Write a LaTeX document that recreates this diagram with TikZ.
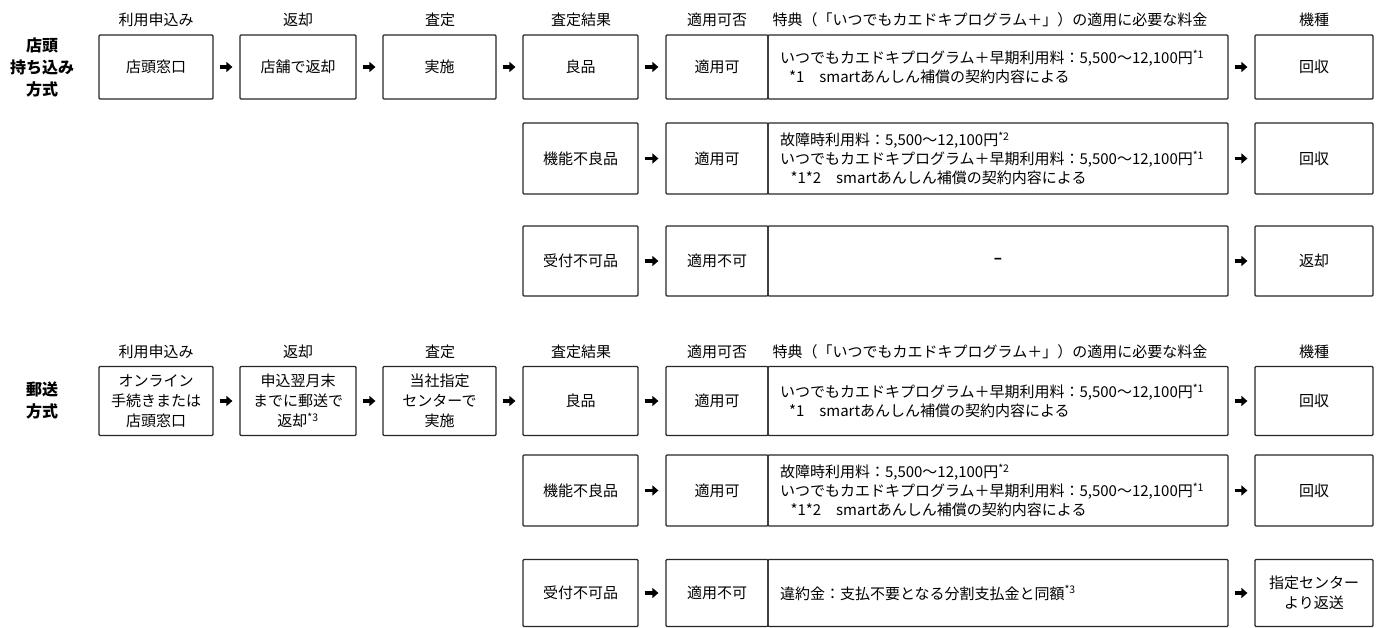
\documentclass[tikz,border=0pt]{standalone}
\usepackage{fontspec}
\setmainfont{Noto Sans CJK JP}
\usetikzlibrary{arrows.meta}
\newcommand\kome[1]{\textsuperscript{*#1}}

\begin{document}
\begin{tikzpicture}[x=1pt, y=-1pt,
  box/.style={draw=black!85, line width=1.2pt, rounded corners=1pt, inner sep=2pt, align=center, font=\fontsize{15}{20}\selectfont},
  fee/.style={box, minimum width=460pt, text width=436pt, inner xsep=12pt, align=left, font=\fontsize{15}{19}\selectfont},
  head/.style={font=\fontsize{15}{19}\selectfont},
  side/.style={align=center, font=\fontsize{16}{22}\selectfont\bfseries},
  arr/.style={line width=3.4pt, -{Triangle[length=6pt,width=10pt]}, shorten <=6pt, shorten >=7pt}]
\useasboundingbox (0,0) rectangle (1381,628);

\node[head] (ha-1) at (156,20) {利用申込み};
\node[head] (ha-2) at (298,20) {返却};
\node[head] (ha-3) at (440,20) {査定};
\node[head] (ha-4) at (581,20) {査定結果};
\node[head] (ha-5) at (717,20) {適用可否};
\node[head] (ha-6) at (990,20) {特典（「いつでもカエドキプログラム＋」）の適用に必要な料金};
\node[head] (ha-7) at (1314,20) {機種};
\node[side] (sa) at (42,67) {店頭\\持ち込み\\方式};

\node[box, minimum width=114pt, minimum height=64pt] (a-1-1) at (156,67) {店頭窓口};
\node[box, minimum width=116pt, minimum height=64pt] (a-1-2) at (298,67) {店舗で返却};
\node[box, minimum width=113pt, minimum height=64pt] (a-1-3) at (439.5,67) {実施};
\node[box, minimum width=115pt, minimum height=64pt] (a-1-4) at (580.5,67) {良品};
\node[box, minimum width=102pt, minimum height=64pt] (a-1-5) at (717,67) {適用可};
\node[fee, minimum height=64pt] (a-1-6) at (998,67)
  {いつでもカエドキプログラム＋早期利用料：5,500～12,100円\kome{1}\\
   \hspace*{0.6em}*1\hspace{1em}smartあんしん補償の契約内容による};
\node[box, minimum width=118pt, minimum height=64pt] (a-1-7) at (1314,67) {回収};

\node[box, minimum width=115pt, minimum height=71pt] (a-2-4) at (580.5,158.5) {機能不良品};
\node[box, minimum width=102pt, minimum height=71pt] (a-2-5) at (717,158.5) {適用可};
\node[fee, minimum height=71pt] (a-2-6) at (998,158.5)
  {故障時利用料：5,500～12,100円\kome{2}\\
   いつでもカエドキプログラム＋早期利用料：5,500～12,100円\kome{1}\\
   \hspace*{0.7em}*1*2\hspace{1em}smartあんしん補償の契約内容による};
\node[box, minimum width=118pt, minimum height=71pt] (a-2-7) at (1314,158.5) {回収};

\node[box, minimum width=115pt, minimum height=70pt] (a-3-4) at (580.5,261) {受付不可品};
\node[box, minimum width=102pt, minimum height=70pt] (a-3-5) at (717,261) {適用不可};
\node[box, minimum width=460pt, minimum height=70pt] (a-3-6) at (998,261) {\bfseries –};
\node[box, minimum width=118pt, minimum height=70pt] (a-3-7) at (1314,261) {返却};

\path[arr]
  (a-1-1) edge (a-1-2)
  (a-1-2) edge (a-1-3)
  (a-1-3) edge (a-1-4)
  (a-1-4) edge (a-1-5)
  (a-1-6) edge (a-1-7)
  (a-2-4) edge (a-2-5)
  (a-2-6) edge (a-2-7)
  (a-3-4) edge (a-3-5)
  (a-3-6) edge (a-3-7);

\node[head] (hb-1) at (156,352) {利用申込み};
\node[head] (hb-2) at (298,352) {返却};
\node[head] (hb-3) at (440,352) {査定};
\node[head] (hb-4) at (581,352) {査定結果};
\node[head] (hb-5) at (717,352) {適用可否};
\node[head] (hb-6) at (990,352) {特典（「いつでもカエドキプログラム＋」）の適用に必要な料金};
\node[head] (hb-7) at (1314,352) {機種};
\node[side] (sb) at (42,400) {郵送\\方式};

\node[box, minimum width=114pt, minimum height=69pt] (b-1-1) at (156,401) {オンライン\\手続きまたは\\店頭窓口};
\node[box, minimum width=116pt, minimum height=69pt] (b-1-2) at (298,401) {申込翌月末\\までに郵送で\\返却\kome{3}};
\node[box, minimum width=113pt, minimum height=69pt] (b-1-3) at (439.5,401) {当社指定\\センターで\\実施};
\node[box, minimum width=115pt, minimum height=69pt] (b-1-4) at (580.5,401) {良品};
\node[box, minimum width=102pt, minimum height=69pt] (b-1-5) at (717,401) {適用可};
\node[fee, minimum height=69pt] (b-1-6) at (998,401)
  {いつでもカエドキプログラム＋早期利用料：5,500～12,100円\kome{1}\\
   \hspace*{0.6em}*1\hspace{1em}smartあんしん補償の契約内容による};
\node[box, minimum width=118pt, minimum height=69pt] (b-1-7) at (1314,401) {回収};

\node[box, minimum width=115pt, minimum height=71pt] (b-2-4) at (580.5,490.5) {機能不良品};
\node[box, minimum width=102pt, minimum height=71pt] (b-2-5) at (717,490.5) {適用可};
\node[fee, minimum height=71pt] (b-2-6) at (998,490.5)
  {故障時利用料：5,500～12,100円\kome{2}\\
   いつでもカエドキプログラム＋早期利用料：5,500～12,100円\kome{1}\\
   \hspace*{0.7em}*1*2\hspace{1em}smartあんしん補償の契約内容による};
\node[box, minimum width=118pt, minimum height=71pt] (b-2-7) at (1314,490.5) {回収};

\node[box, minimum width=115pt, minimum height=67pt] (b-3-4) at (580.5,593) {受付不可品};
\node[box, minimum width=102pt, minimum height=67pt] (b-3-5) at (717,593) {適用不可};
\node[fee, minimum height=67pt] (b-3-6) at (998,593) {違約金：支払不要となる分割支払金と同額\kome{3}};
\node[box, minimum width=118pt, minimum height=67pt] (b-3-7) at (1314,593) {指定センター\\より返送};

\path[arr]
  (b-1-1) edge (b-1-2)
  (b-1-2) edge (b-1-3)
  (b-1-3) edge (b-1-4)
  (b-1-4) edge (b-1-5)
  (b-1-6) edge (b-1-7)
  (b-2-4) edge (b-2-5)
  (b-2-6) edge (b-2-7)
  (b-3-4) edge (b-3-5)
  (b-3-6) edge (b-3-7);
\end{tikzpicture}
\end{document}
